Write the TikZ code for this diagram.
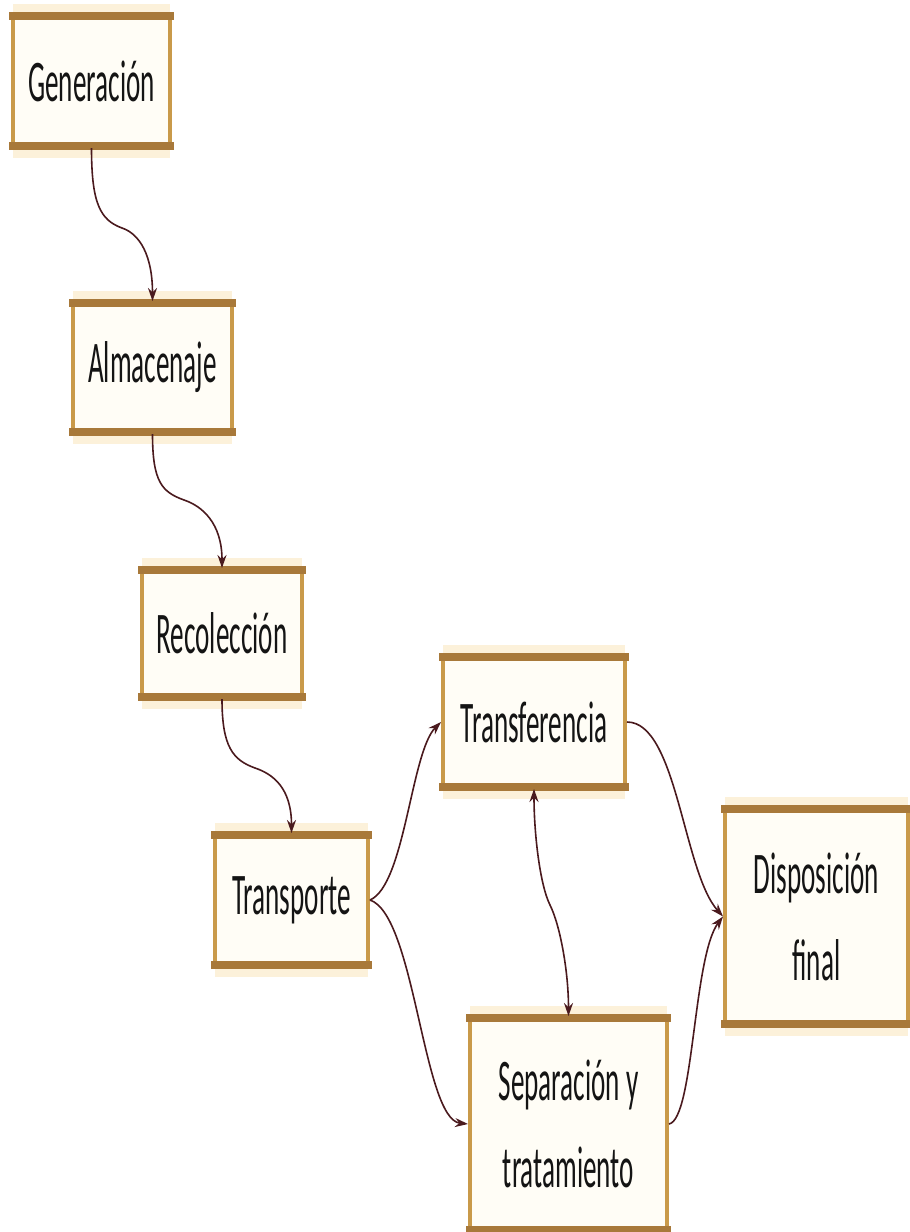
\documentclass[tikz,border=0pt]{standalone}
\usepackage{fontspec}
\setmainfont{Carlito}[FakeStretch=0.46]
\usetikzlibrary{arrows.meta}
\definecolor{boxgold}{HTML}{C99A4A}
\definecolor{bargold}{HTML}{A8793A}
\definecolor{glow}{HTML}{FCF1DA}
\definecolor{cream}{HTML}{FFFDF6}
\definecolor{arrowc}{HTML}{4A1A1E}
\definecolor{txt}{HTML}{141414}
\tikzset{
  stagebox/.style={draw=boxgold, line width=4pt, fill=cream, inner sep=0pt,
    text=txt, font=\fontsize{59}{87}\selectfont, align=center},
  flow/.style={draw=arrowc, line width=1.6pt, -{Stealth[length=13pt,width=9pt]}},
  flowboth/.style={draw=arrowc, line width=1.6pt, {Stealth[length=13pt,width=9pt]}-{Stealth[length=13pt,width=9pt]}},
  topbar/.style={draw=bargold, line width=8pt},
  glowbar/.style={draw=glow, line width=10pt}
}
\begin{document}
\begin{tikzpicture}[x=1pt,y=-1pt]
\path[use as bounding box, fill=white] (0,0) rectangle (910,1232);
% glow behind boxes
\foreach \cx/\cy/\w/\h in {91.5/81/157/130, 152.5/367.5/159/129, 222/633.5/160/127, 291.5/900/153/130, 534/722/182/130, 568.5/1124/197/212, 816.5/916.5/183/215}{
  \draw[glowbar] (\cx-\w/2,\cy-\h/2-7) -- (\cx+\w/2,\cy-\h/2-7);
  \draw[glowbar] (\cx-\w/2,\cy+\h/2+7) -- (\cx+\w/2,\cy+\h/2+7);
}
% nodes
\node[stagebox, minimum width=157pt, minimum height=130pt] (gen) at (91.5,81) {Generación};
\node[stagebox, minimum width=159pt, minimum height=129pt] (alm) at (152.5,367.5) {Almacenaje};
\node[stagebox, minimum width=160pt, minimum height=127pt] (rec) at (222,633.5) {Recolección};
\node[stagebox, minimum width=153pt, minimum height=130pt] (trp) at (291.5,900) {Transporte};
\node[stagebox, minimum width=182pt, minimum height=130pt] (trf) at (534,722) {Transferencia};
\node[stagebox, minimum width=197pt, minimum height=212pt] (sep) at (568.5,1124) {Separación y\\tratamiento};
\node[stagebox, minimum width=183pt, minimum height=215pt] (dis) at (816.5,916.5) {Disposición\\final};
% top and bottom bars
\foreach \n in {gen,alm,rec,trp,trf,sep,dis}{
  \draw[topbar] ([xshift=-2pt,yshift=-2pt]\n.north west) -- ([xshift=2pt,yshift=-2pt]\n.north east);
  \draw[topbar] ([xshift=-2pt,yshift=2pt]\n.south west) -- ([xshift=2pt,yshift=2pt]\n.south east);
}
% connectors
\coordinate (m1) at (122,228);
\coordinate (m2) at (184,500);
\coordinate (m3) at (255,768);
\coordinate (m4) at (550,905);
\draw[flow] (gen.south) .. controls +(0,55) and +(-22,-8) .. (m1) .. controls +(18,6) and +(0,-45) .. (alm.north);
\draw[flow] (alm.south) .. controls +(0,48) and +(-22,-8) .. (m2) .. controls +(18,6) and +(0,-45) .. (rec.north);
\draw[flow] (rec.south) .. controls +(0,48) and +(-22,-8) .. (m3) .. controls +(18,6) and +(0,-45) .. (trp.north);
\draw[flow] (trp.east) .. controls +(35,-15) and +(-30,30) .. (trf.west);
\draw[flow] (trp.east) .. controls +(45,15) and +(-45,-5) .. (sep.west);
\draw[flowboth] (trf.south) .. controls +(0,45) and +(-10,-20) .. (m4) .. controls +(10,20) and +(0,-45) .. (sep.north);
\draw[flow] (trf.east) .. controls +(50,0) and +(-40,-45) .. (dis.west);
\draw[flow] (sep.east) .. controls +(25,-5) and +(-30,40) .. (dis.west);
\end{tikzpicture}
\end{document}
